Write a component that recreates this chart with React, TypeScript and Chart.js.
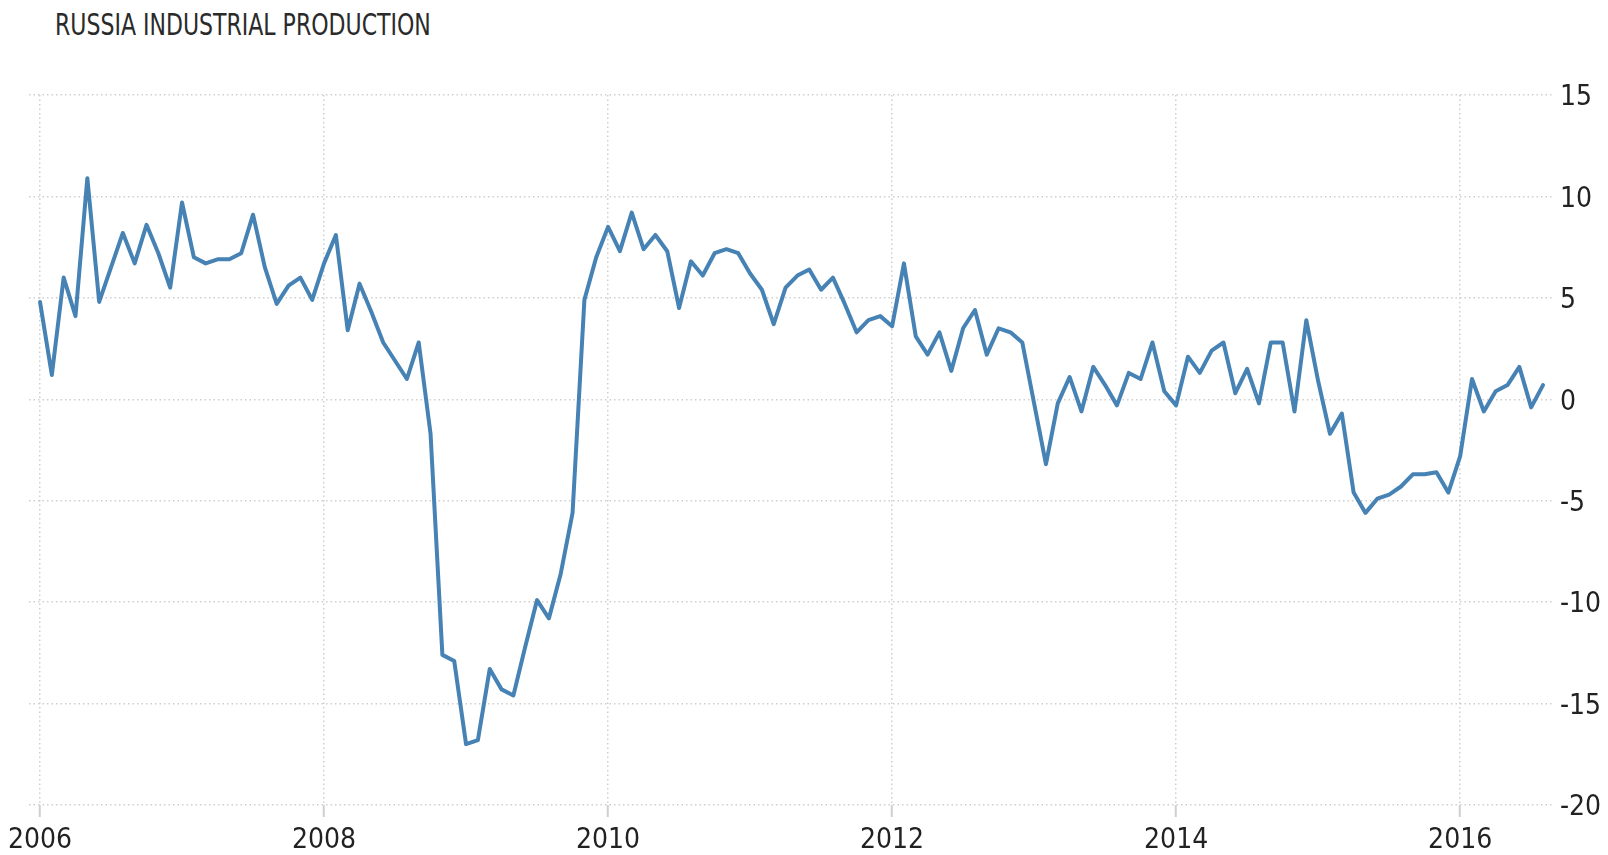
import { useEffect, useRef } from "react";
import { Chart, registerables } from "chart.js";

Chart.register(...registerables);

const TITLE = "RUSSIA INDUSTRIAL PRODUCTION";
const FIRST_YEAR = 2006;

// Monthly year-over-year change (%), Jan 2006 .. Aug 2016
const V2006 = [4.8, 1.2, 6.0, 4.1, 10.9, 4.8, 6.5, 8.2, 6.7, 8.6, 7.2, 5.5];
const V2007 = [9.7, 7.0, 6.7, 6.9, 6.9, 7.2, 9.1, 6.5, 4.7, 5.6, 6.0, 4.9];
const V2008 = [6.7, 8.1, 3.4, 5.7, 4.3, 2.8, 1.9, 1.0, 2.8, -1.7, -12.6, -12.9];
const V2009 = [-17.0, -16.8, -13.3, -14.3, -14.6, -12.2, -9.9, -10.8, -8.6, -5.6, 4.9, 7.0];
const V2010 = [8.5, 7.3, 9.2, 7.4, 8.1, 7.3, 4.5, 6.8, 6.1, 7.2, 7.4, 7.2];
const V2011 = [6.2, 5.4, 3.7, 5.5, 6.1, 6.4, 5.4, 6.0, 4.7, 3.3, 3.9, 4.1];
const V2012 = [3.6, 6.7, 3.1, 2.2, 3.3, 1.4, 3.5, 4.4, 2.2, 3.5, 3.3, 2.8];
const V2013 = [-0.2, -3.2, -0.2, 1.1, -0.6, 1.6, 0.7, -0.3, 1.3, 1.0, 2.8, 0.4];
const V2014 = [-0.3, 2.1, 1.3, 2.4, 2.8, 0.3, 1.5, -0.2, 2.8, 2.8, -0.6, 3.9];
const V2015 = [0.9, -1.7, -0.7, -4.6, -5.6, -4.9, -4.7, -4.3, -3.7, -3.7, -3.6, -4.6];
const V2016 = [-2.8, 1.0, -0.6, 0.4, 0.7, 1.6, -0.4, 0.7];

const SERIES = [V2006, V2007, V2008, V2009, V2010, V2011, V2012, V2013, V2014, V2015, V2016];

const X_TICK_LABELS = ["2006", "2008", "2010", "2012", "2014", "2016"];
const Y_MIN = -20;
const Y_MAX = 15;
const Y_STEP = 5;

const FONT_FAMILY = "'Liberation Sans Narrow', 'DejaVu Sans Condensed', 'Roboto Condensed', sans-serif";

export default function App() {
  const ref = useRef<HTMLCanvasElement>(null);

  useEffect(() => {
    const values = SERIES.flat();
    const points = values.map((y, i) => ({ x: i, y }));
    const tickPos = X_TICK_LABELS.map((l) => (Number(l) - FIRST_YEAR) * 12);
    const labelAt = (v: number) => {
      const k = tickPos.indexOf(v);
      return k >= 0 ? X_TICK_LABELS[k] : "";
    };

    const chart = new Chart(ref.current as HTMLCanvasElement, {
      type: "line",
      data: {
        datasets: [
          {
            data: points,
            borderColor: "#4682b4",
            borderWidth: 4,
            pointRadius: 0,
            tension: 0,
            fill: false,
            borderJoinStyle: "round",
            borderCapStyle: "round",
          },
        ],
      },
      options: {
        animation: false,
        responsive: false,
        maintainAspectRatio: false,
        layout: { padding: { left: 29, top: 95, right: 0, bottom: 0 } },
        plugins: {
          legend: { display: false },
          tooltip: { enabled: false },
          title: { display: false },
        },
        scales: {
          x: {
            type: "linear",
            min: -0.93,
            max: 127.76,
            afterBuildTicks: (s: any) => {
              s.ticks = tickPos.map((v) => ({ value: v }));
            },
            afterFit: (s: any) => {
              s.height = 50;
            },
            ticks: {
              autoSkip: false,
              maxRotation: 0,
              padding: 7,
              color: "#222",
              font: { family: FONT_FAMILY, size: 28 },
              callback: (v: any) => labelAt(Number(v)),
            },
            grid: {
              color: "#cfcfcf",
              lineWidth: 1.5,
              drawTicks: true,
              tickLength: 12,
              tickColor: "#cfcfcf",
              tickWidth: 2,
              tickBorderDash: [],
            },
            border: { display: false, dash: [1.5, 3] },
          },
          y: {
            position: "right",
            min: Y_MIN,
            max: Y_MAX,
            afterFit: (s: any) => {
              s.width = 56;
            },
            ticks: {
              stepSize: Y_STEP,
              padding: 8,
              labelOffset: 3,
              color: "#222",
              font: { family: FONT_FAMILY, size: 28 },
            },
            grid: {
              color: "#cfcfcf",
              lineWidth: 1.5,
              drawTicks: false,
            },
            border: { display: false, dash: [1.5, 3] },
          },
        },
      },
    } as any);

    return () => chart.destroy();
  }, []);

  return (
    <div style={{ position: "fixed", left: 0, top: 0, width: 1608, height: 855, background: "#fff" }}>
      <div
        style={{
          position: "absolute",
          left: 55,
          top: 9,
          fontFamily: FONT_FAMILY,
          fontSize: 31,
          lineHeight: "31px",
          color: "#2a2a2a",
          whiteSpace: "nowrap",
          transform: "scaleX(0.79)",
          transformOrigin: "left top",
        }}
      >
        {TITLE}
      </div>
      <canvas ref={ref} width={1608} height={855} style={{ position: "absolute", left: 0, top: 0 }} />
    </div>
  );
}
